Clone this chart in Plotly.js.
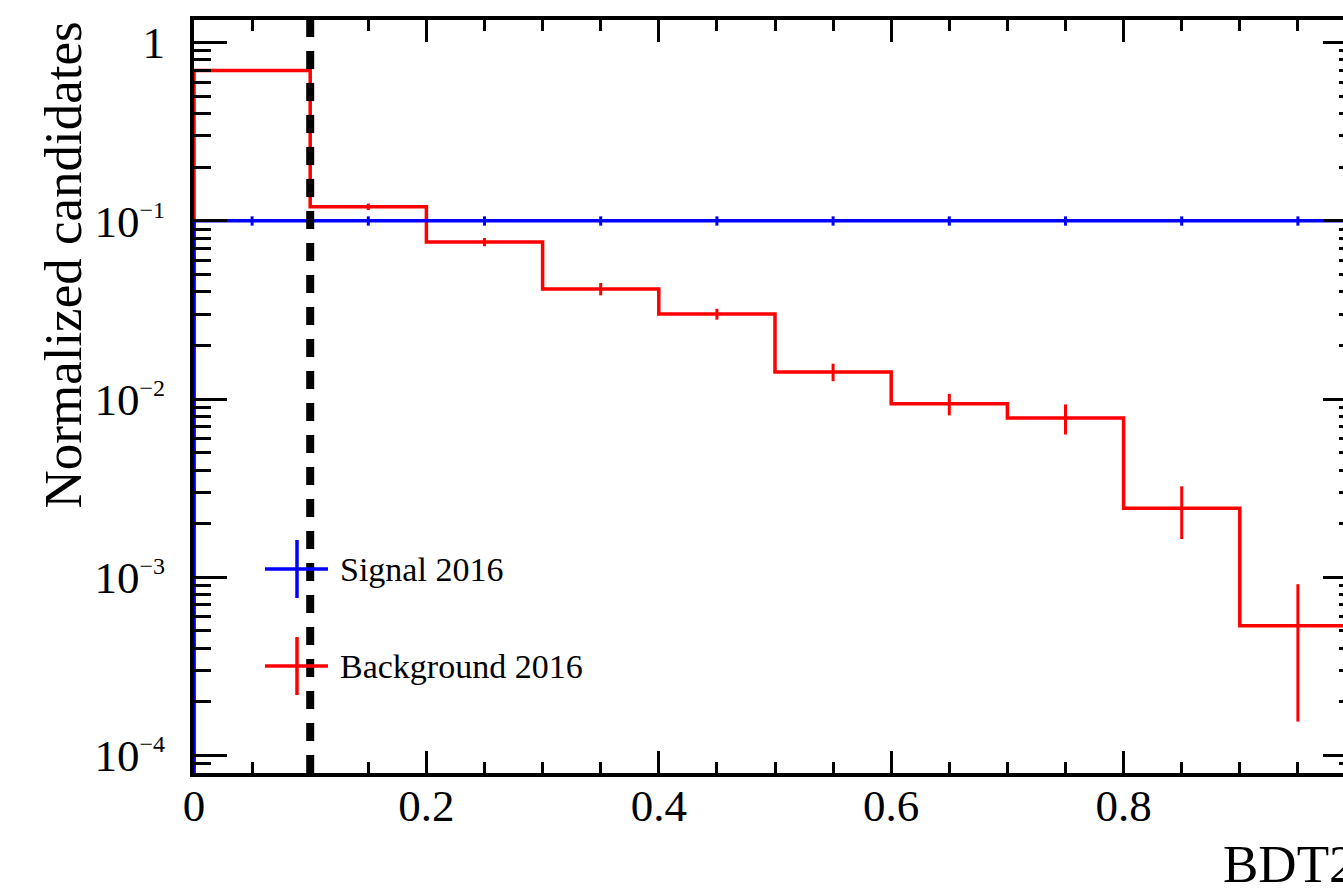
<!DOCTYPE html>
<html>
<head>
<meta charset="utf-8">
<script src="https://cdn.plot.ly/plotly-3.0.1.min.js"></script>
<style>
  html, body { margin: 0; padding: 0; overflow: hidden; background: #fff; }
  #chart { width: 1420px; height: 891px; }
</style>
</head>
<body>
<div id="chart"></div>
<script>
// ---- data ----
const binEdges = [0.0, 0.1, 0.2, 0.3, 0.4, 0.5, 0.6, 0.7, 0.8, 0.9, 1.0];
const binCenters = [0.05, 0.15, 0.25, 0.35, 0.45, 0.55, 0.65, 0.75, 0.85, 0.95];
const signalValues = [0.100, 0.100, 0.100, 0.100, 0.100, 0.100, 0.100, 0.100, 0.100, 0.100];
const signalErrors = [0.006, 0.006, 0.006, 0.006, 0.006, 0.006, 0.006, 0.006, 0.006, 0.006];
const backgroundValues = [0.697, 0.120, 0.0761, 0.0415, 0.0300, 0.0142, 0.0094, 0.00783, 0.00244, 0.000535];
const backgroundErrors = [0.010, 0.005, 0.004, 0.0033, 0.0021, 0.0016, 0.0013, 0.0015, 0.0008, 0.00038];
const cutValue = 0.1;
const seriesNames = ["Signal 2016", "Background 2016"];
const xTickVals = [0, 0.2, 0.4, 0.6, 0.8];
const xTickText = ["0", "0.2", "0.4", "0.6", "0.8"];
const yTickVals = [1e-4, 1e-3, 1e-2, 1e-1, 1];
const yTickExp = ["\u22124", "\u22123", "\u22122", "\u22121", null];
const xTitle = "BDT2";
const yTitle = "Normalized candidates";

// ---- helpers ----
const FONT = '"Liberation Serif", "Times New Roman", serif';
const yTickText = yTickExp.map(e => e === null ? "1" : "10<sup><span style=\"font-size:24px\">" + e + "</span></sup>");
const floorVal = 1e-6;
function stepPath(edges, vals) {
  const xs = [edges[0]], ys = [floorVal];
  for (let i = 0; i < vals.length; i++) {
    xs.push(edges[i], edges[i + 1]);
    ys.push(vals[i], vals[i]);
  }
  xs.push(edges[edges.length - 1]);
  ys.push(floorVal);
  return { xs, ys };
}
const minorY = [];
for (let d = -5; d <= 0; d++) for (let k = 2; k <= 9; k++) minorY.push(k * Math.pow(10, d));

const W = 1420, H = 891, L = 194, R = 64, T = 20, B = 118;
const PW = W - L - R, PH = H - T - B;
const px = x => (x - L) / PW;
const py = y => (H - B - y) / PH;

const bgStep = stepPath(binEdges, backgroundValues);
const sigStep = stepPath(binEdges, signalValues);

const traces = [
  { x: bgStep.xs, y: bgStep.ys, mode: 'lines', line: { color: '#ff0000', width: 3.5, shape: 'linear' }, name: seriesNames[1], showlegend: false, hoverinfo: 'skip' },
  { x: binCenters, y: backgroundValues, mode: 'markers', marker: { size: 1, color: 'rgba(0,0,0,0)' },
    error_y: { type: 'data', array: backgroundErrors, visible: true, width: 0, thickness: 3, color: '#ff0000' }, showlegend: false, hoverinfo: 'skip' },
  { x: sigStep.xs, y: sigStep.ys, mode: 'lines', line: { color: '#0000ff', width: 3.5, shape: 'linear' }, name: seriesNames[0], showlegend: false, hoverinfo: 'skip' },
  { x: binCenters, y: signalValues, mode: 'markers', marker: { size: 1, color: 'rgba(0,0,0,0)' },
    error_y: { type: 'data', array: signalErrors, visible: true, width: 0, thickness: 3, color: '#0000ff' }, showlegend: false, hoverinfo: 'skip' }
];

// legend (manual, ROOT style crosses)
const legItems = [
  { name: seriesNames[0], color: '#0000ff', y: 569 },
  { name: seriesNames[1], color: '#ff0000', y: 666 }
];
const shapes = [
  { type: 'line', xref: 'x', yref: 'paper', x0: cutValue, x1: cutValue, y0: 0, y1: 1, layer: 'above',
    line: { color: '#000', width: 8, dash: '18px,14px' } }
];
const annotations = [
  { xref: 'paper', yref: 'paper', x: px(62), y: 1.0, xanchor: 'center', yanchor: 'top', textangle: -90,
    text: yTitle, showarrow: false, font: { family: FONT, size: 53, color: '#000' } },
  { xref: 'paper', yref: 'paper', x: px(1221), y: py(864), xanchor: 'left', yanchor: 'middle',
    text: xTitle, showarrow: false, font: { family: FONT, size: 53, color: '#000' } }
];
legItems.forEach(it => {
  shapes.push({ type: 'line', xref: 'paper', yref: 'paper', x0: px(265), x1: px(328), y0: py(it.y), y1: py(it.y), layer: 'above', line: { color: it.color, width: 3.5 } });
  shapes.push({ type: 'line', xref: 'paper', yref: 'paper', x0: px(297), x1: px(297), y0: py(it.y - 29), y1: py(it.y + 29), layer: 'above', line: { color: it.color, width: 3.5 } });
  annotations.push({ xref: 'paper', yref: 'paper', x: px(338), y: py(it.y), xanchor: 'left', yanchor: 'middle',
    text: it.name, showarrow: false, font: { family: FONT, size: 34, color: '#000' } });
});

const axisCommon = {
  showgrid: false, zeroline: false, showline: true, linecolor: '#000', linewidth: 4, mirror: 'ticks',
  ticks: 'inside', tickcolor: '#000', tickwidth: 3,
  tickfont: { family: FONT, size: 45, color: '#000' }, tickmode: 'array'
};

const layout = {
  width: W, height: H,
  margin: { l: L, r: R, t: T, b: B, pad: 0 },
  paper_bgcolor: '#fff', plot_bgcolor: '#fff',
  showlegend: false,
  xaxis: Object.assign({}, axisCommon, {
    range: [0, 1], tickvals: xTickVals, ticktext: xTickText, ticklen: 22, ticklabelstandoff: -10,
    minor: { ticks: 'inside', ticklen: 11, tickwidth: 3, tickcolor: '#000', tick0: 0, dtick: 0.05, showgrid: false }
  }),
  yaxis: Object.assign({}, axisCommon, {
    type: 'log', range: [-4.098, 0.127], tickvals: yTickVals, ticktext: yTickText, ticklen: 33, ticklabelstandoff: 16,
    minor: { ticks: 'inside', ticklen: 17, tickwidth: 3, tickcolor: '#000', tickmode: 'array', tickvals: minorY, showgrid: false }
  }),
  shapes: shapes,
  annotations: annotations
};

Plotly.newPlot('chart', traces, layout, { displayModeBar: false, staticPlot: true });
</script>
</body>
</html>
